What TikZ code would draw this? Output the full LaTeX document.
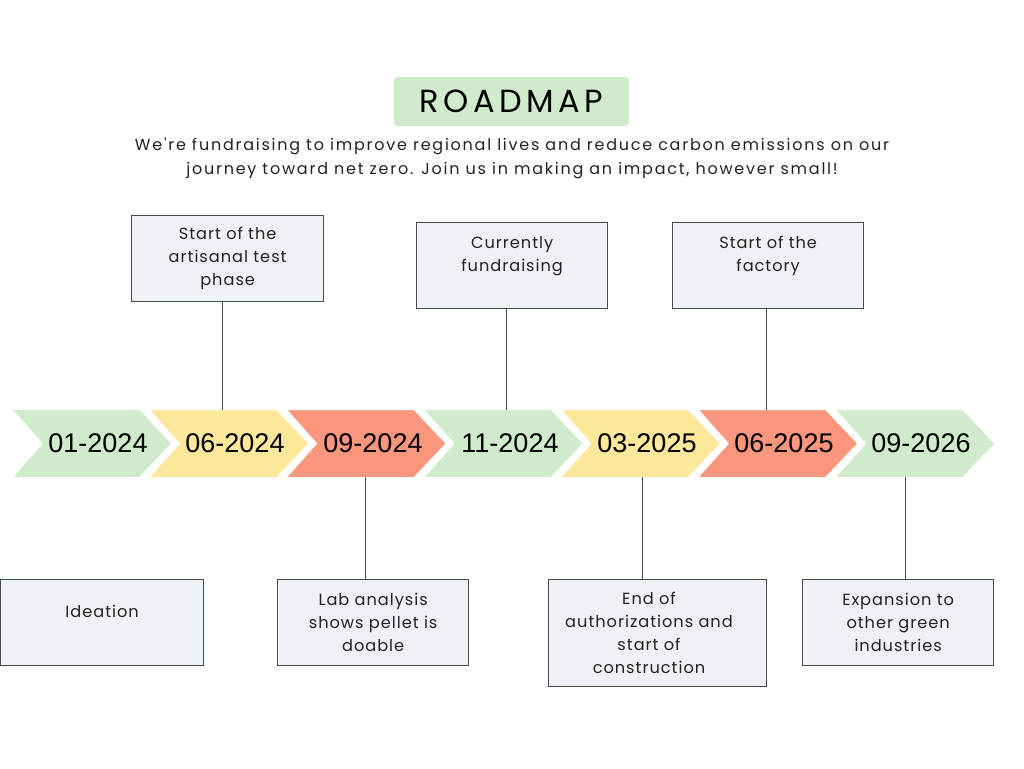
\documentclass[tikz,border=0pt]{standalone}
\usepackage{fontspec}
\setmainfont{Poppins}
\newfontfamily\boxfont[LetterSpace=6]{Poppins}
\newfontfamily\subfont[LetterSpace=11]{Poppins}
\newfontfamily\titlefont[LetterSpace=14]{Poppins}
\newfontfamily\datefont{Liberation Sans}
\definecolor{cgreen}{HTML}{D0EBCB}
\definecolor{cyellow}{HTML}{FCE79A}
\definecolor{cred}{HTML}{FA967C}
\definecolor{boxfill}{HTML}{EEF1F5}
\definecolor{boxline}{HTML}{4A4A4A}
\definecolor{txt}{HTML}{222222}
\begin{document}
\begin{tikzpicture}[x=1pt,y=-1pt,
  infobox/.style={draw=boxline, line width=1.3pt, fill=boxfill, inner sep=0pt,
    anchor=north west, align=center, text=txt,
    font=\boxfont\fontsize{16.2}{23}\selectfont},
  boxtext/.style={inner sep=0pt, align=center, text=txt,
    font=\boxfont\fontsize{16.2}{23}\selectfont},
  datelabel/.style={font=\datefont\fontsize{27}{30}\selectfont, text=black, inner sep=0pt},
  conn/.style={draw=boxline, line width=0.9pt},
  chev/.style={draw=white, line width=5pt, line join=miter}
]
\useasboundingbox (0,0) rectangle (1024,768);
\fill[white] (0,0) rectangle (1024,768);

% title
\node[fill=cgreen, rounded corners=3pt, minimum width=235pt, minimum height=49pt, inner sep=0pt,
  font=\titlefont\fontsize{32}{34}\selectfont, text=black] (title) at (511.5,101.5) {ROADMAP};
\node[font=\subfont\fontsize{16}{24}\selectfont, text=txt, align=center, inner sep=0pt] (sub) at (512,158)
  {We're fundraising to improve regional lives and reduce carbon emissions on our\\
   journey toward net zero. Join us in making an impact, however small!};

% chevrons
\foreach \i/\c in {0/cgreen,1/cyellow,2/cred,3/cgreen,4/cyellow,5/cred,6/cgreen}{
  \pgfmathsetmacro\xx{7.5+137.2*\i}
  \path[chev, fill=\c] (\xx,407.5) -- ++(133,0) -- ++(34,36) -- ++(-34,36) -- ++(-133,0) -- ++(32,-36) -- cycle;
}
\node[datelabel] (d1) at (98,443) {01-2024};
\node[datelabel] (d2) at (235,443) {06-2024};
\node[datelabel] (d3) at (373,443) {09-2024};
\node[datelabel] (d4) at (510,443) {11-2024};
\node[datelabel] (d5) at (647,443) {03-2025};
\node[datelabel] (d6) at (784,443) {06-2025};
\node[datelabel] (d7) at (921,443) {09-2026};

% junction points on chevrons
\coordinate (j2) at (222,410);
\coordinate (j3) at (365,477);
\coordinate (j4) at (506,410);
\coordinate (j5) at (642,477);
\coordinate (j6) at (766,410);
\coordinate (j7) at (905,477);

% top boxes
\node[infobox, minimum width=192pt, minimum height=86pt] (bA) at (131,215)
  {Start of the\\artisanal test\\phase};
\node[infobox, minimum width=191pt, minimum height=86pt] (bB) at (416,222)
  {Currently\\fundraising\\\mbox{}};
\node[infobox, minimum width=191pt, minimum height=86pt] (bC) at (672,222)
  {Start of the\\factory\\\mbox{}};

% bottom boxes
\node[infobox, minimum width=203pt, minimum height=86pt] (b1) at (0,579)
  {Ideation\\\mbox{}};
\node[infobox, minimum width=191pt, minimum height=86pt] (b3) at (277,579)
  {Lab analysis\\shows pellet is\\doable};
\node[infobox, minimum width=218pt, minimum height=107pt] (b5) at (548,579) {};
\node[boxtext] (b5t) at (649,633)
  {End of\\authorizations and\\start of\\construction};
\node[infobox, minimum width=191pt, minimum height=86pt] (b7) at (802,579)
  {Expansion to\\other green\\industries};

% connectors
\draw[conn] (bA.south -| j2) -- (j2);
\draw[conn] (bB.south -| j4) -- (j4);
\draw[conn] (bC.south -| j6) -- (j6);
\draw[conn] (j3) -- (b3.north -| j3);
\draw[conn] (j5) -- (b5.north -| j5);
\draw[conn] (j7) -- (b7.north -| j7);
\end{tikzpicture}
\end{document}
